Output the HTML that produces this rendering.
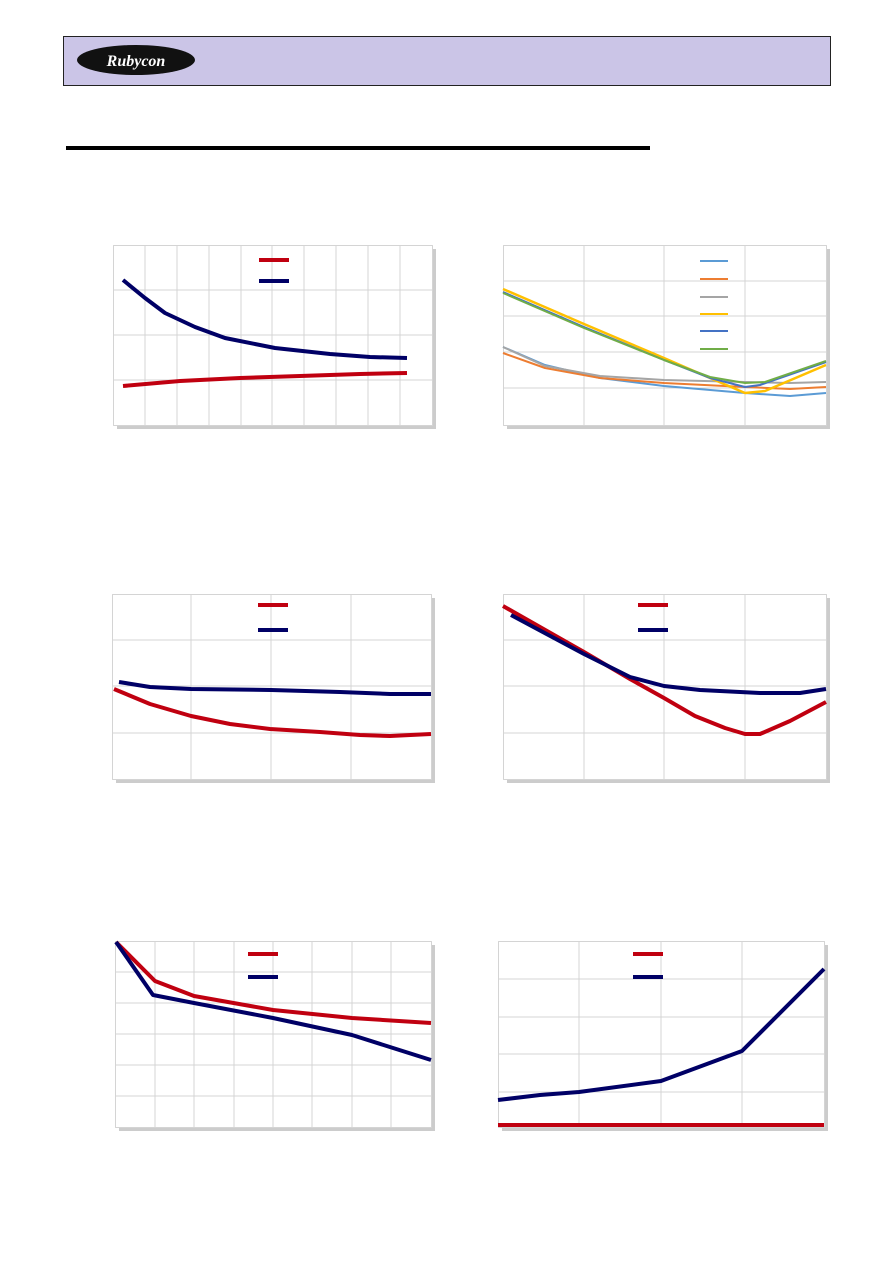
<!DOCTYPE html>
<html><head><meta charset="utf-8"><style>
html,body{margin:0;padding:0;background:#fff;}
body{width:893px;height:1263px;overflow:hidden;font-family:"Liberation Serif",serif;}
</style></head><body>
<svg width="893" height="1263" viewBox="0 0 893 1263" xmlns="http://www.w3.org/2000/svg">
<rect x="63.5" y="36.5" width="767" height="49" fill="#cbc5e7" stroke="#222" stroke-width="1"/>
<ellipse cx="136" cy="60" rx="59" ry="15" fill="#111"/>
<text x="136" y="66" text-anchor="middle" font-family="Liberation Serif,serif" font-style="italic" font-weight="bold" font-size="16" fill="#fff">Rubycon</text>
<rect x="66" y="146" width="584" height="4" fill="#000"/>
<g fill="none" stroke-linejoin="round" stroke-linecap="butt">
<!-- chart 1 -->
<rect x="117" y="249" width="319" height="180" fill="#ccc"/>
<rect x="113.5" y="245.5" width="319" height="180" fill="#fff" stroke="#d4d4d4"/>
<g stroke="#d4d4d4"><path d="M145 245V425M177 245V425M209 245V425M241 245V425M272 245V425M304 245V425M336 245V425M368 245V425M400 245V425M113 290H432M113 335H432M113 380H432"/></g>
<path d="M259 260H289" stroke="#c00010" stroke-width="4"/><path d="M259 281H289" stroke="#000066" stroke-width="4"/>
<path d="M123 386L180 381L240 378L300 376L360 374L407 373" stroke="#c00010" stroke-width="4"/>
<path d="M123 280L145 298L165 313L195 327L225 338L275 348L330 354L370 357L407 358" stroke="#000066" stroke-width="4"/>
<!-- chart 2 -->
<rect x="507" y="249" width="323" height="180" fill="#ccc"/>
<rect x="503.5" y="245.5" width="323" height="180" fill="#fff" stroke="#d4d4d4"/>
<g stroke="#d4d4d4"><path d="M584 245V425M664 245V425M745 245V425M503 281H826M503 316H826M503 352H826M503 388H826"/></g>
<g stroke-width="2"><path d="M700 261H728" stroke="#5b9bd5"/><path d="M700 279H728" stroke="#ed7d31"/><path d="M700 297H728" stroke="#a5a5a5"/><path d="M700 314H728" stroke="#ffc000"/><path d="M700 331H728" stroke="#4472c4"/><path d="M700 349H728" stroke="#70ad47"/></g>
<path d="M503 347L545 365L600 378L664 386L745 393L790 396L826 393" stroke="#5b9bd5" stroke-width="2"/>
<path d="M503 353L545 368L600 378L664 383L745 387L790 389L826 387" stroke="#ed7d31" stroke-width="2"/>
<path d="M503 347L545 366L600 376L664 380L745 382L790 383L826 382" stroke="#a5a5a5" stroke-width="2"/>
<path d="M503 289L584 324L664 358L710 378L745 393L765 391L826 365" stroke="#ffc000" stroke-width="2.5"/>
<path d="M503 292L584 327L664 360L710 378L745 387L760 385L826 362" stroke="#4472c4" stroke-width="2"/>
<path d="M503 293L584 328L664 360L710 377L745 383L765 382L826 361" stroke="#70ad47" stroke-width="2"/>
<!-- chart 3 -->
<rect x="116" y="598" width="319" height="185" fill="#ccc"/>
<rect x="112.5" y="594.5" width="319" height="185" fill="#fff" stroke="#d4d4d4"/>
<g stroke="#d4d4d4"><path d="M191 594V779M271 594V779M351 594V779M112 640H431M112 686H431M112 733H431"/></g>
<path d="M258 605H288" stroke="#c00010" stroke-width="4"/><path d="M258 630H288" stroke="#000066" stroke-width="4"/>
<path d="M114 689L150 704L191 716L230 724L270 729L320 732L360 735L390 736L431 734" stroke="#c00010" stroke-width="4"/>
<path d="M119 682L150 687L191 689L271 690L340 692L390 694L431 694" stroke="#000066" stroke-width="4"/>
<!-- chart 4 -->
<rect x="507" y="598" width="323" height="185" fill="#ccc"/>
<rect x="503.5" y="594.5" width="323" height="185" fill="#fff" stroke="#d4d4d4"/>
<g stroke="#d4d4d4"><path d="M584 594V779M664 594V779M745 594V779M503 640H826M503 686H826M503 733H826"/></g>
<path d="M638 605H668" stroke="#c00010" stroke-width="4"/><path d="M638 630H668" stroke="#000066" stroke-width="4"/>
<path d="M503 606L584 652L630 679L664 698L695 716L725 728L745 734L760 734L790 721L826 702" stroke="#c00010" stroke-width="4"/>
<path d="M511 615L584 654L630 677L664 686L700 690L760 693L800 693L826 689" stroke="#000066" stroke-width="4"/>
<!-- chart 5 -->
<rect x="119" y="945" width="316" height="186" fill="#ccc"/>
<rect x="115.5" y="941.5" width="316" height="186" fill="#fff" stroke="#d4d4d4"/>
<g stroke="#d4d4d4"><path d="M155 941V1127M194 941V1127M234 941V1127M273 941V1127M312 941V1127M352 941V1127M391 941V1127M115 972H431M115 1003H431M115 1034H431M115 1065H431M115 1096H431"/></g>
<path d="M248 954H278" stroke="#c00010" stroke-width="4"/><path d="M248 977H278" stroke="#000066" stroke-width="4"/>
<path d="M116 942L155 981L194 996L273 1010L352 1018L431 1023" stroke="#c00010" stroke-width="4"/>
<path d="M116 942L153 995L194 1003L273 1018L352 1035L431 1060" stroke="#000066" stroke-width="4"/>
<!-- chart 6 -->
<rect x="502" y="945" width="326" height="186" fill="#ccc"/>
<rect x="498.5" y="941.5" width="326" height="186" fill="#fff" stroke="#d4d4d4"/>
<g stroke="#d4d4d4"><path d="M579 941V1127M661 941V1127M742 941V1127M498 979H824M498 1017H824M498 1054H824M498 1092H824"/></g>
<path d="M633 954H663" stroke="#c00010" stroke-width="4"/><path d="M633 977H663" stroke="#000066" stroke-width="4"/>
<path d="M498 1125H824" stroke="#c00010" stroke-width="4"/>
<path d="M498 1100L540 1095L579 1092L661 1081L742 1051L824 969" stroke="#000066" stroke-width="4"/>
</g>
</svg>
</body></html>
